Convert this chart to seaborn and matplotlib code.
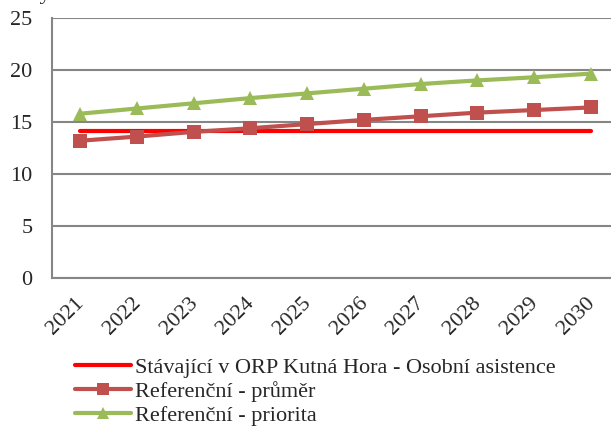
import matplotlib
matplotlib.use("Agg")
import matplotlib.pyplot as plt
import seaborn as sns
import pandas as pd

years = ["2021", "2022", "2023", "2024", "2025", "2026", "2027", "2028", "2029", "2030"]
stavajici = [14.1] * 10
prumer = [13.2, 13.6, 14.05, 14.4, 14.8, 15.2, 15.55, 15.9, 16.15, 16.4]
priorita = [15.8, 16.3, 16.8, 17.3, 17.75, 18.2, 18.65, 19.0, 19.3, 19.65]

labels = ["Stávající v ORP Kutná Hora - Osobní asistence",
          "Referenční - průměr",
          "Referenční - priorita"]
colors = ["#FF0000", "#C0504D", "#9BBB59"]
markers = [None, "s", "^"]

df = pd.DataFrame({"rok": years, labels[0]: stavajici, labels[1]: prumer, labels[2]: priorita})
long = df.melt(id_vars="rok", var_name="serie", value_name="hodnota")

sns.set_style("white")
plt.rcParams["font.family"] = ["Liberation Serif", "DejaVu Serif"]

fig = plt.figure(figsize=(6.11, 4.26), dpi=100)
ax = fig.add_axes([52 / 611, 148 / 426, 567 / 611, 260 / 426])

for lab, col, mk in zip(labels, colors, markers):
    sub = long[long["serie"] == lab]
    sns.lineplot(data=sub, x="rok", y="hodnota", ax=ax, color=col, lw=3,
                 marker=mk, markersize=10, markeredgewidth=0, label=lab)

ax.set_xlim(-0.5, 9.5)
ax.set_ylim(0, 25)
ax.set_yticks(range(0, 26, 5))
ax.yaxis.grid(True, color="#868686", lw=1.5)
ax.set_axisbelow(True)
ax.set_xlabel("")
ax.set_ylabel("")
for s in ["top", "right"]:
    ax.spines[s].set_visible(False)
for s in ["left", "bottom"]:
    ax.spines[s].set_color("#868686")
    ax.spines[s].set_linewidth(1.5)

# category borders as major ticks, rotated labels on minor ticks near the centers
ax.set_xticks([i - 0.5 for i in range(10)], minor=False)
ax.set_xticklabels([])
ax.set_xticks([i - 0.1 for i in range(10)], minor=True)
ax.set_xticklabels(years, minor=True, rotation=45, ha="right", va="top",
                   rotation_mode="anchor", fontsize=16)
ax.tick_params(axis="x", which="major", length=6, width=1.5, color="#868686", direction="out")
ax.tick_params(axis="x", which="minor", length=0, pad=11)
ax.tick_params(axis="y", length=6, width=1.5, color="#868686", labelsize=16, pad=8, direction="out")

# title cut off by the top edge in the original
fig.text(0.0, 1.0 + 1 / 426, "Počty osob celkem", fontsize=16, va="baseline", ha="left")

leg = ax.legend(loc="upper left", bbox_to_anchor=(75 / 611, 69 / 426), bbox_transform=fig.transFigure,
                frameon=False, fontsize=16, handlelength=2.5, handletextpad=0.2,
                labelspacing=0.15, borderaxespad=0, borderpad=0, markerscale=0.8)

fig.savefig("out.png", dpi=100)
